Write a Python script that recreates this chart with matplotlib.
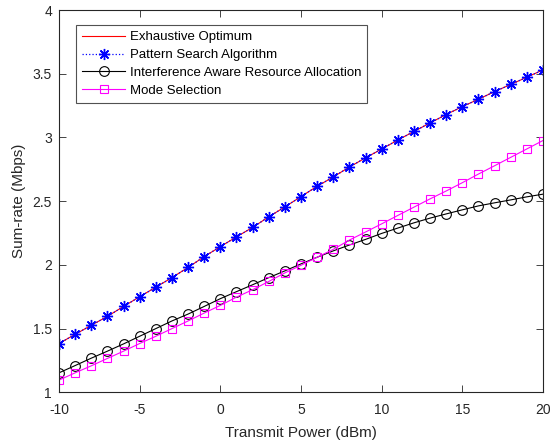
import numpy as np
import matplotlib
matplotlib.use("Agg")
import matplotlib.pyplot as plt

plt.rcParams["font.family"] = ["Liberation Sans", "DejaVu Sans"]
plt.rcParams["axes.unicode_minus"] = False

# Transmit power (dBm)
power = np.arange(-10, 21)

# Sum-rate (Mbps)
exhaustive = [1.383, 1.455, 1.526, 1.596, 1.674, 1.750, 1.825, 1.900, 1.980, 2.065,
              2.143, 2.220, 2.294, 2.377, 2.455, 2.536, 2.617, 2.690, 2.768, 2.840,
              2.909, 2.980, 3.047, 3.114, 3.180, 3.242, 3.300, 3.360, 3.416, 3.473, 3.530]
pattern = exhaustive
interference = [1.153, 1.210, 1.268, 1.323, 1.380, 1.440, 1.500, 1.560, 1.614, 1.674,
                1.735, 1.790, 1.844, 1.900, 1.953, 2.008, 2.060, 2.110, 2.156, 2.200,
                2.247, 2.289, 2.330, 2.367, 2.400, 2.432, 2.463, 2.487, 2.510, 2.534, 2.555]
mode_sel = [1.096, 1.153, 1.208, 1.266, 1.323, 1.383, 1.440, 1.500, 1.560, 1.622,
            1.682, 1.747, 1.805, 1.870, 1.937, 1.997, 2.060, 2.122, 2.195, 2.258,
            2.322, 2.388, 2.453, 2.518, 2.580, 2.645, 2.713, 2.778, 2.844, 2.910, 2.976]

fig = plt.figure(figsize=(5.5, 4.43), dpi=100)
ax = fig.add_axes([0.1073, 0.1144, 0.88, 0.863])

ax.plot(power, exhaustive, "-", color="red", lw=0.8, label="Exhaustive Optimum")
ax.plot(power, pattern, ":", color="blue", lw=0.9, marker=(8, 2, 0), ms=8,
        mew=1.0, label="Pattern Search Algorithm")
ax.plot(power, interference, "-", color="black", lw=0.8, marker="o", ms=7,
        mfc="none", mew=0.8, label="Interference Aware Resource Allocation")
ax.plot(power, mode_sel, "-", color="magenta", lw=0.8, marker="s", ms=6,
        mfc="none", mew=0.8, label="Mode Selection")

ax.set_xlim(-10, 20)
ax.set_ylim(1, 4)
ax.set_xticks(np.arange(-10, 21, 5))
ax.set_yticks(np.arange(1, 4.01, 0.5))
ax.set_yticklabels(["1", "1.5", "2", "2.5", "3", "3.5", "4"])

gray = "#262626"
for s in ax.spines.values():
    s.set_color(gray)
    s.set_linewidth(0.8)
ax.tick_params(direction="in", top=True, right=True, length=5, width=0.6,
               colors=gray, labelsize=10)
ax.tick_params(axis="x", pad=8)
ax.tick_params(axis="y", pad=5)
ax.set_xlabel("Transmit Power (dBm)", fontsize=11, color=gray, labelpad=6)
ax.set_ylabel("Sum-rate (Mbps)", fontsize=11, color=gray, labelpad=5)

leg = ax.legend(loc="upper left", bbox_to_anchor=(0.035, 0.96), fontsize=9.5,
                frameon=True, fancybox=False, edgecolor=gray, handlelength=3.3,
                handletextpad=0.35, labelspacing=0.42, borderpad=0.45,
                borderaxespad=0)
leg.get_frame().set_linewidth(0.8)

fig.savefig("out.png", dpi=100)
